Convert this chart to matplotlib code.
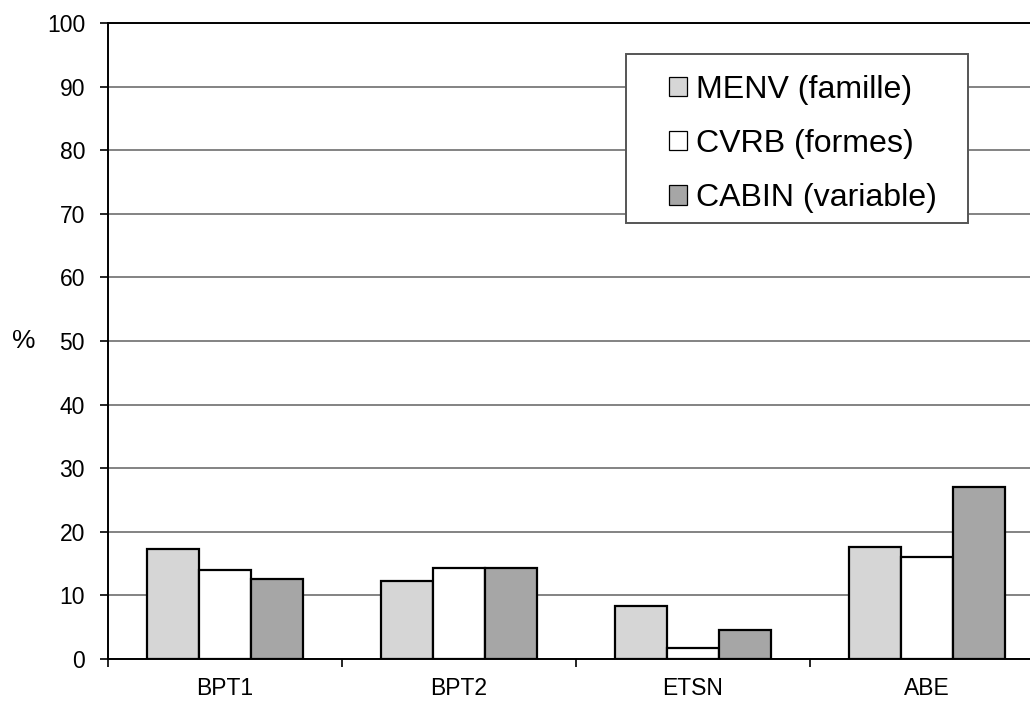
import matplotlib
matplotlib.use("Agg")
import matplotlib.pyplot as plt
from matplotlib.patches import Rectangle
import numpy as np

plt.rcParams['font.family'] = ['Liberation Sans', 'DejaVu Sans']

categories = ["BPT1", "BPT2", "ETSN", "ABE"]
series_names = ["MENV (famille)", "CVRB (formes)", "CABIN (variable)"]
menv = [17.3, 12.3, 8.3, 17.6]
cvrb = [14.0, 14.3, 1.7, 16.0]
cabin = [12.6, 14.3, 4.6, 27.0]
yticks = [0, 10, 20, 30, 40, 50, 60, 70, 80, 90, 100]

colors = ["#d6d6d6", "#ffffff", "#a6a6a6"]

W, H = 1030, 706
fig = plt.figure(figsize=(W / 100, H / 100), dpi=100)
# plot area runs past the right edge of the picture (as in the reference)
ax = fig.add_axes([108 / W, 1 - 659 / H, (1044 - 108) / W, (659 - 23) / H])

x = np.arange(len(categories))
w = 0.222
for i, (vals, name, c) in enumerate(zip([menv, cvrb, cabin], series_names, colors)):
    ax.bar(x + (i - 1) * w, vals, width=w, color=c, edgecolor="black",
           linewidth=1.6, label=name, zorder=3)

ax.set_xlim(-0.5, len(categories) - 0.5)
ax.set_ylim(0, 100)
ax.set_yticks(yticks)
ax.set_yticklabels([str(t) for t in yticks], fontsize=16.5)
ax.yaxis.grid(True, color="#7a7a7a", linewidth=1.3, zorder=0)
ax.set_axisbelow(True)

ax.set_xticks(x)
ax.set_xticklabels(categories, fontsize=16.5)
ax.tick_params(axis='x', length=0, pad=13)
ax.set_xticks(np.arange(-0.5, len(categories)), minor=True)
ax.tick_params(axis='x', which='minor', length=6, width=1.2, direction='out')
ax.tick_params(axis='y', length=6, width=1.2, direction='out', pad=10.5)

ax.spines["right"].set_visible(False)
ax.spines["top"].set_visible(True)
ax.spines["top"].set_linewidth(1.4)
ax.spines["left"].set_linewidth(1.4)
ax.spines["bottom"].set_linewidth(1.4)

fig.text(24 / W, 1 - 341 / H, "%", fontsize=19, ha="center", va="center")

# legend frame
fig.patches.append(Rectangle((626 / W, 1 - 223 / H), (968 - 626) / W, (223 - 54) / H,
                             transform=fig.transFigure, facecolor="white",
                             edgecolor="#555555", linewidth=1.4, zorder=5))
leg = fig.legend(*ax.get_legend_handles_labels(), loc="upper left",
                 bbox_to_anchor=(669 / W, 1 - 75 / H),
                 fontsize=23.1, frameon=False,
                 handlelength=0.56, handleheight=0.56, handletextpad=0.28,
                 labelspacing=0.75, borderpad=0, borderaxespad=0)
leg.set_zorder(6)
for p in leg.get_patches():
    p.set_linewidth(0.9)

fig.savefig("out.png", dpi=100)
